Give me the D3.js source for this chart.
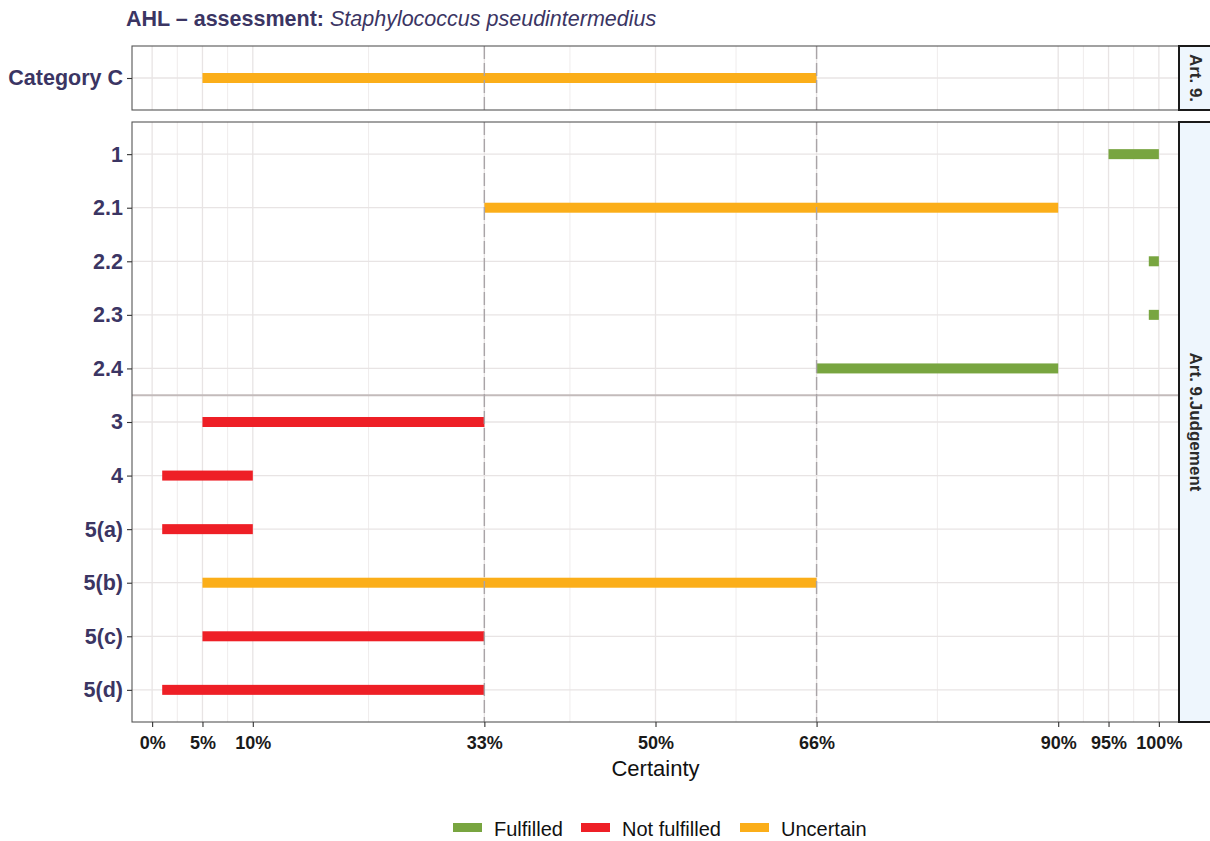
<!DOCTYPE html>
<html>
<head>
<meta charset="utf-8">
<script src="https://cdn.jsdelivr.net/npm/d3@7"></script>
<style>
  html, body { margin: 0; padding: 0; background: #fff; }
  svg { display: block; font-family: "Liberation Sans", Arial, Helvetica, sans-serif; }
</style>
</head>
<body>
<svg id="chart" width="1210" height="841"></svg>
<script>
// ---------------- data ----------------
const titleBold = "AHL \u2013 assessment: ";
const titleItalic = "Staphylococcus pseudintermedius";

const catRows = ["Category C"];
const catStart = [5];
const catEnd = [66];
const catStatus = ["Uncertain"];

const judgRows = ["1", "2.1", "2.2", "2.3", "2.4", "3", "4", "5(a)", "5(b)", "5(c)", "5(d)"];
const judgStart = [95, 33, 99, 99, 66, 5, 1, 1, 5, 5, 1];
const judgEnd = [100, 90, 100, 100, 90, 33, 10, 10, 66, 33, 33];
const judgStatus = ["Fulfilled", "Uncertain", "Fulfilled", "Fulfilled", "Fulfilled",
  "Not fulfilled", "Not fulfilled", "Not fulfilled", "Uncertain", "Not fulfilled", "Not fulfilled"];

const xTicks = [0, 5, 10, 33, 50, 66, 90, 95, 100];
const refLines = [33, 66];
const separatorAfter = "2.4";

const statusNames = ["Fulfilled", "Not fulfilled", "Uncertain"];
const statusColors = ["#78a540", "#ee1f26", "#fbae19"];

const stripLabels = ["Art. 9.", "Art. 9.Judgement"];

// ---------------- layout ----------------
const svg = d3.select("#chart");
const left = 132, right = 1179;
const x = d3.scaleLinear().domain([-2, 102]).range([left, right]);
const color = d3.scaleOrdinal().domain(statusNames).range(statusColors);

const panels = [
  { rows: catRows, start: catStart, end: catEnd, status: catStatus, top: 46, bottom: 110, strip: stripLabels[0] },
  { rows: judgRows, start: judgStart, end: judgEnd, status: judgStatus, top: 122, bottom: 722, strip: stripLabels[1] }
];

const labelColor = "#3b3563";
const minorTicks = xTicks.slice(1).map((d, i) => (d + xTicks[i]) / 2);

panels.forEach((p, pi) => {
  const y = d3.scalePoint().domain(p.rows).range([p.top, p.bottom]).padding(0.6);
  const g = svg.append("g");

  g.append("rect").attr("x", left).attr("y", p.top).attr("width", right - left)
    .attr("height", p.bottom - p.top).attr("fill", "#fff");

  g.selectAll(".minor").data(minorTicks).enter().append("line")
    .attr("x1", d => x(d)).attr("x2", d => x(d))
    .attr("y1", p.top).attr("y2", p.bottom)
    .attr("stroke", "#efecec").attr("stroke-width", 1);
  g.selectAll(".majorx").data(xTicks).enter().append("line")
    .attr("x1", d => x(d)).attr("x2", d => x(d))
    .attr("y1", p.top).attr("y2", p.bottom)
    .attr("stroke", "#e8e4e4").attr("stroke-width", 1.3);
  g.selectAll(".majory").data(p.rows).enter().append("line")
    .attr("x1", left).attr("x2", right)
    .attr("y1", d => y(d)).attr("y2", d => y(d))
    .attr("stroke", "#e8e4e4").attr("stroke-width", 1.3);

  if (p.rows.includes(separatorAfter)) {
    const idx = p.rows.indexOf(separatorAfter);
    const ys = (y(p.rows[idx]) + y(p.rows[idx + 1])) / 2;
    g.append("line").attr("x1", left).attr("x2", right)
      .attr("y1", ys).attr("y2", ys)
      .attr("stroke", "#c3bbbb").attr("stroke-width", 2);
  }

  g.selectAll(".bar").data(p.rows).enter().append("rect")
    .attr("x", (d, i) => x(p.start[i]))
    .attr("width", (d, i) => x(p.end[i]) - x(p.start[i]))
    .attr("y", d => y(d) - 5)
    .attr("height", 10)
    .attr("fill", (d, i) => color(p.status[i]));

  g.selectAll(".ref").data(refLines).enter().append("line")
    .attr("x1", d => x(d)).attr("x2", d => x(d))
    .attr("y1", p.top).attr("y2", p.bottom)
    .attr("stroke", "#a9a4a7").attr("stroke-width", 1.4)
    .attr("stroke-dasharray", "13,4");

  g.append("rect").attr("x", left).attr("y", p.top).attr("width", right - left)
    .attr("height", p.bottom - p.top).attr("fill", "none")
    .attr("stroke", "#555").attr("stroke-width", 1.1);

  const ya = svg.append("g").attr("transform", `translate(${left},0)`)
    .call(d3.axisLeft(y).tickSize(5).tickPadding(4));
  ya.select(".domain").remove();
  ya.selectAll(".tick line").attr("stroke", "#333").attr("stroke-width", 1.1);
  ya.selectAll(".tick text").attr("fill", labelColor).attr("font-size", "21.5px")
    .attr("font-weight", "bold").attr("font-family", "Liberation Sans, Arial, sans-serif");

  const sg = svg.append("g");
  sg.append("rect").attr("x", right).attr("y", p.top).attr("width", 40)
    .attr("height", p.bottom - p.top).attr("fill", "#eef6fd")
    .attr("stroke", "#1a1a1a").attr("stroke-width", 2);
  sg.append("text")
    .attr("transform", `translate(${right + 16},${(p.top + p.bottom) / 2}) rotate(90)`)
    .attr("text-anchor", "middle").attr("dominant-baseline", "central")
    .attr("font-size", "17px").attr("font-weight", "bold").attr("fill", "#2b2b2b")
    .text(p.strip);

  if (pi === panels.length - 1) {
    const xa = svg.append("g").attr("transform", `translate(0,${p.bottom})`)
      .call(d3.axisBottom(x).tickValues(xTicks).tickFormat(d => d + "%").tickSize(5).tickPadding(9));
    xa.select(".domain").remove();
    xa.selectAll(".tick line").attr("stroke", "#333").attr("stroke-width", 1.1);
    xa.selectAll(".tick text").attr("fill", "#1a1a1a").attr("font-size", "18px")
      .attr("font-weight", "bold").attr("font-family", "Liberation Sans, Arial, sans-serif");
  }
});

const title = svg.append("text").attr("x", 126).attr("y", 26)
  .attr("font-size", "21.5px").attr("fill", labelColor);
title.append("tspan").attr("font-weight", "bold").text(titleBold);
title.append("tspan").attr("font-style", "italic").text(titleItalic);

svg.append("text").attr("x", (left + right) / 2).attr("y", 776)
  .attr("text-anchor", "middle").attr("font-size", "22px").attr("fill", "#111")
  .text("Certainty");

const legendX = [453, 581, 740];
const lg = svg.append("g");
statusNames.forEach((s, i) => {
  lg.append("rect").attr("x", legendX[i]).attr("y", 823).attr("width", 29).attr("height", 9)
    .attr("fill", color(s));
  lg.append("text").attr("x", legendX[i] + 41).attr("y", 836)
    .attr("font-size", "20px").attr("fill", "#111").text(s);
});
</script>
</body>
</html>
